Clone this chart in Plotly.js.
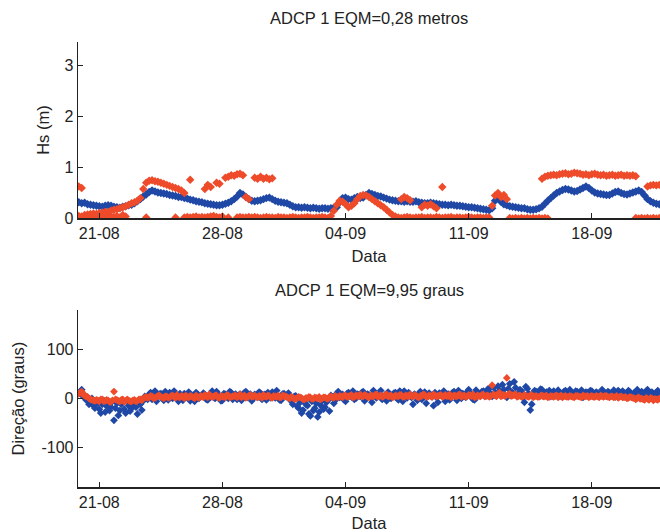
<!DOCTYPE html>
<html>
<head>
<meta charset="utf-8">
<script src="https://cdn.plot.ly/plotly-3.0.1.min.js"></script>
<style>html,body{margin:0;padding:0;background:#fff;}#chart{width:660px;height:532px;}</style>
</head>
<body>
<div id="chart"></div>
<script>
// ---- sampling: one value every 4 hours, starting 19-08 20:00 ----
const startTime = "2013-08-19T20:00:00";
const stepHours = 4;
const offsetHours = 2; // second set of direction samples, between the first ones

// ---- tick labels ----
const tickDates = ["2013-08-21", "2013-08-28", "2013-09-04", "2013-09-11", "2013-09-18"];
const tickLabels = ["21-08", "28-08", "04-09", "11-09", "18-09"];
const hsTicks = [0, 1, 2, 3];
const dirTicks = [-100, 0, 100];
const dirTickLabels = ["-100", "0", "100"];

// ---- Hs (m): ADCP (blue) ----
const hsBlue = [
0.32,0.30,0.31,0.28,0.27,0.26, 0.25,0.24,0.23,0.25,0.26,0.25, 0.23,0.22,0.21,0.23,0.24,0.26,
0.27,0.30,0.34,0.38,0.43,0.47, 0.52,0.55,0.53,0.51,0.50,0.49, 0.48,0.46,0.45,0.44,0.42,0.42,
0.40,0.39,0.37,0.36,0.34,0.33, 0.32,0.30,0.29,0.28,0.27,0.26, 0.26,0.27,0.29,0.31,0.34,0.38,
0.43,0.50,0.47,0.42,0.38,0.35, 0.34,0.35,0.36,0.38,0.40,0.41, 0.38,0.35,0.33,0.32,0.31,0.30,
0.27,0.24,0.22,0.22,0.21,0.22, 0.21,0.20,0.21,0.20,0.19,0.20, 0.20,0.19,0.20,0.21,0.22,0.32,
0.40,0.41,0.38,0.37,0.40,0.42, 0.40,0.41,0.46,0.50,0.48,0.46, 0.44,0.43,0.41,0.39,0.37,0.36,
0.35,0.34,0.34,0.33,0.34,0.33, 0.33,0.34,0.32,0.31,0.30,0.30, 0.31,0.30,0.29,0.28,0.27,0.27,
0.26,0.27,0.26,0.25,0.25,0.24, 0.23,0.22,0.22,0.21,0.20,0.19, 0.18,0.17,0.16,0.20,0.35,0.40,
0.33,0.28,0.26,0.24,0.23,0.22, 0.21,0.20,0.20,0.18,0.17,0.17, 0.18,0.20,0.23,0.29,0.35,0.40,
0.45,0.50,0.53,0.56,0.58,0.57, 0.55,0.53,0.54,0.57,0.60,0.63, 0.60,0.55,0.51,0.49,0.48,0.47,
0.46,0.46,0.49,0.52,0.53,0.50, 0.48,0.47,0.49,0.51,0.53,0.55, 0.52,0.45,0.38,0.34,0.31,0.29,
0.28];

// ---- Hs (m): model (red), main band ----
const hsRedMain = [
0.63,0.60,0.07,0.08,0.09,0.10, 0.09,0.11,0.12,0.13,0.13,0.15, 0.17,0.18,0.20,0.22,0.24,0.27,
0.30,0.32,0.35,0.40,0.58,0.70, 0.74,0.75,0.73,0.72,0.70,0.68, 0.66,0.64,0.62,0.60,0.58,0.55,
0.50,null,0.76,null,null,null, null,0.58,0.66,0.62,null,0.70, 0.68,null,0.80,0.82,0.85,0.84,
0.87,0.88,0.85,0.42,0.38,null, 0.80,0.78,0.82,0.78,0.80,0.77, 0.79,null,null,null,null,null,
null,null,null,null,null,null, null,null,null,null,null,null, null,null,0.05,0.15,0.27,0.35,
0.33,0.28,0.22,0.25,0.30,0.38, 0.44,0.46,0.45,0.42,0.38,0.34, 0.30,0.26,0.22,0.17,0.12,0.07,
0.04,null,0.38,0.42,0.40,0.36, null,null,null,0.22,0.27,0.25, 0.28,0.24,0.20,null,0.62,null,
null,null,null,null,null,null, null,null,null,null,null,null, null,null,null,0.25,0.45,0.50,
0.42,0.46,0.38,null,null,null, null,null,null,null,null,null, null,null,0.78,0.82,0.84,0.85,
0.86,0.85,0.87,0.88,0.89,0.87, 0.88,0.90,0.89,0.88,0.86,0.87, 0.85,0.87,0.88,0.86,0.85,0.86,
0.84,0.85,0.86,0.84,0.85,0.86, 0.84,0.85,0.84,0.85,0.83,null, null,null,0.63,0.65,0.66,0.65,
0.66];

// ---- Hs (m): model (red), band near zero ----
const hsRedLow = [
0.05,0.04,0.03,0.02,0.04,0.03, 0.05,0.02,0.04,0.03,0.06,0.04, 0.03,0.05,0.02,0.07,0.04,null,
null,null,null,null,null,0.02, null,null,null,null,null,null, null,null,null,0.02,null,null,
0.02,0.03,0.02,0.03,0.04,0.02, 0.03,0.02,0.03,0.04,0.05,0.03, 0.02,0.04,null,0.02,null,null,
0.02,0.03,0.02,0.02,0.03,0.02, 0.03,0.02,0.01,0.02,0.03,0.02, 0.02,0.01,0.03,0.02,0.02,0.01,
0.02,0.03,0.02,0.01,0.02,0.02, 0.03,0.02,0.01,0.02,0.02,0.03, 0.02,0.01,null,null,null,null,
null,null,null,null,null,null, null,null,null,null,null,null, null,null,null,null,null,null,
null,0.02,0.01,0.02,0.03,0.02, 0.01,0.02,0.02,0.03,0.01,0.02, 0.02,0.01,0.03,0.02,0.01,0.02,
0.02,0.03,0.01,0.02,0.02,0.01, 0.02,0.03,0.02,0.01,0.02,0.02, 0.01,0.02,0.02,null,null,null,
null,null,null,0.01,0.00,0.01, 0.00,0.01,0.00,0.01,0.00,0.01, 0.00,0.01,0.00,0.01,0.00,null,
null,null,null,null,null,null, null,null,null,null,null,null, null,null,null,null,null,null,
null,null,null,null,null,null, null,null,null,null,0.01,0.00, 0.01,0.00,0.01,0.00,0.01,0.00,
0.01];

// ---- Direção (graus): ADCP (blue), samples on the hour grid ----
const dirBlue = [
10,18,6,2,-8,-15, -5,-22,-12,-28,-8,-18, -45,-10,-25,-6,-30,-15,
-20,-8,-32,-12,-5,2, 8,-2,15,5,10,-4, 6,12,0,8,-6,4,
10,2,-5,6,12,0, 4,8,-3,10,2,14, 5,-4,8,0,12,6,
-2,9,3,14,6,-5, 8,2,11,4,-3,7, 13,1,6,-4,10,3,
0,-12,5,-20,-30,-8, -15,-36,-25,-10,-28,-5, -18,-4,6,-10,10,2,
8,-6,12,3,-2,9, 4,14,0,7,-8,10, 5,16,2,-5,9,3,
12,-3,6,15,1,8, -12,5,10,-2,13,4, 7,-15,2,11,6,-6,
9,3,14,-4,6,10, 2,18,8,-3,12,5, 15,8,20,4,12,25,
10,18,2,30,12,22, 6,15,-8,20,-24,10, 14,6,18,9,12,4,
15,8,11,3,16,7, 12,5,14,9,2,13, 8,15,4,11,7,14,
5,12,9,3,16,8, 11,4,13,7,10,2, 14,6,18,9,-3,12,
5];

// ---- Direção (graus): ADCP (blue), in-between samples ----
const dirBlueMid = [
14,4,-3,-12,0,-20, -10,-30,-4,-16,-25,-6, -20,-35,-12,-22,-4,-26,
-10,-18,-6,-24,4,-2, 12,3,-6,9,0,14, -3,8,15,2,10,-4,
6,13,1,-6,9,4, 11,-2,6,15,0,8, -5,10,3,14,-2,9,
6,-4,12,2,9,0, 4,13,-2,8,12,1, 7,16,-3,9,4,11,
-6,4,-16,-8,-24,-12, -32,-6,-20,-38,-14,-22, -8,-26,2,-4,14,6,
-3,10,5,15,0,7, 12,-5,9,3,16,1, 10,-2,7,13,0,11,
4,15,-6,8,12,2, 9,-4,14,5,-10,11, 3,12,-8,7,15,1,
-3,12,5,16,0,8, 13,6,-2,17,8,14, 4,19,10,22,6,16,
28,5,20,12,34,8, 18,2,24,10,-12,16, 8,19,4,13,16,7,
11,17,5,14,9,18, 6,15,10,17,7,12, 16,4,13,9,18,6,
14,8,17,11,5,15, 9,16,6,12,18,8, 10,15,4,13,7,16,
10];

// ---- Direção (graus): model (red), samples on the hour grid ----
const dirRed = [
10,14,6,3,-2,-4, -3,-6,-2,-5,-4,-7, 14,-3,-6,-2,-5,-4,
-6,-3,-5,-2,0,3, 2,4,1,5,3,0, 4,2,6,1,3,5,
0,3,5,2,6,1, 4,7,2,5,3,6, 1,4,2,6,3,5,
2,8,4,1,5,3, 6,2,4,7,3,5, 1,4,6,2,5,3,
0,2,-1,3,1,-2, 0,2,-1,1,3,0, 2,-1,4,1,3,5,
2,6,4,7,3,5, 8,4,6,2,5,7, 3,6,4,8,5,2,
6,4,7,3,5,8, 4,6,2,5,7,3, 5,8,4,6,3,7,
5,2,6,4,8,5, 3,7,5,2,6,4, 8,5,3,27,6,9,
4,7,42,10,6,8, 5,3,7,4,6,2, 5,3,6,4,2,5,
3,6,4,2,5,3, 4,2,5,3,6,4, 2,5,3,4,6,3,
5,2,4,3,1,4, 2,0,3,1,-2,2, 0,-3,-1,1,-4,-2,
0];

// ---- Direção (graus): model (red), in-between samples ----
const dirRedMid = [
12,8,4,0,-3,-5, -4,-2,-6,-3,-7,-4, -2,-5,-3,-7,-2,-6,
-4,-6,-2,-4,2,1, 5,0,3,6,2,4, 1,5,3,7,2,4,
6,2,4,0,3,5, 2,5,8,3,6,2, 5,3,7,2,4,6,
4,2,6,3,7,4, 3,5,1,4,6,2, 5,3,2,6,4,1,
3,-1,1,2,-2,1, 3,-1,2,0,-2,2, 0,3,2,5,2,4,
6,3,5,2,6,4, 5,7,3,6,4,8, 5,3,7,4,6,3,
5,7,3,6,4,5, 7,3,5,8,4,6, 3,6,5,7,4,5,
8,4,5,7,3,6, 4,6,8,3,5,7, 4,6,5,8,4,12,
6,5,8,5,7,3, 6,4,5,3,7,4, 3,5,4,6,3,4,
5,2,6,4,3,5, 3,5,4,2,4,5, 4,3,5,2,4,5,
3,4,2,5,3,2, 3,1,2,0,1,-1, -2,1,-3,0,-1,-3,
-1];

// ---- sample times ----
function buildTimes(n, shiftHours) {
  const t0 = new Date(startTime + "Z").getTime() + shiftHours * 3600 * 1000;
  const out = [];
  for (let i = 0; i < n; i++) {
    const d = new Date(t0 + i * stepHours * 3600 * 1000);
    out.push(d.toISOString().slice(0, 19).replace("T", " "));
  }
  return out;
}
const times = buildTimes(hsBlue.length, 0);
const timesMid = buildTimes(dirBlueMid.length, offsetHours);

const BLUE = "#1f48a6";
const RED = "#ee4b2b";
const FONT = "Liberation Sans, Arial, sans-serif";

function mk(x, y, color, xa, ya, name, size) {
  return {
    type: "scatter", mode: "markers", x: x, y: y, xaxis: xa, yaxis: ya, name: name,
    marker: { symbol: "diamond", size: size, color: color, line: { width: 0 } },
    hoverinfo: "x+y", showlegend: false
  };
}

const data = [
  mk(times, hsBlue, BLUE, "x", "y", "ADCP", 6.5),
  mk(times, hsRedLow, RED, "x", "y", "Modelo", 6.5),
  mk(times, hsRedMain, RED, "x", "y", "Modelo", 6.5),
  mk(times, dirBlue, BLUE, "x2", "y2", "ADCP", 6),
  mk(timesMid, dirBlueMid, BLUE, "x2", "y2", "ADCP", 6),
  mk(times, dirRed, RED, "x2", "y2", "Modelo", 6),
  mk(timesMid, dirRedMid, RED, "x2", "y2", "Modelo", 6)
];

const xRange = ["2013-08-19 18:56", "2013-09-21 21:02"];
function xax(anchor) {
  return {
    type: "date", range: xRange, anchor: anchor, domain: [0, 1],
    tickvals: tickDates, ticktext: tickLabels,
    ticks: "inside", ticklen: 5, tickwidth: 1, tickcolor: "#222",
    showline: true, linecolor: "#222", linewidth: 1.3,
    showgrid: false, zeroline: false,
    tickfont: { family: FONT, size: 16, color: "#222" },
    title: { text: "Data", font: { family: FONT, size: 16.5, color: "#222" }, standoff: 9 },
    automargin: false
  };
}
function yax(anchor, range, domain, vals, texts, title, standoff) {
  return {
    anchor: anchor, range: range, domain: domain,
    tickvals: vals, ticktext: texts, ticks: "inside", ticklen: 5, tickwidth: 1, tickcolor: "#222",
    showline: true, linecolor: "#222", linewidth: 1.3,
    showgrid: false, zeroline: false,
    tickfont: { family: FONT, size: 16, color: "#222" },
    title: { text: title, font: { family: FONT, size: 16.5, color: "#222" }, standoff: standoff },
    automargin: false
  };
}

const layout = {
  width: 660, height: 532,
  margin: { l: 78, r: 0, t: 0, b: 0 },
  paper_bgcolor: "#fff", plot_bgcolor: "#fff",
  font: { family: FONT, color: "#222" },
  xaxis: xax("y"),
  yaxis: yax("x", [0, 3.47], [0.5893, 0.9216], hsTicks, hsTicks.map(String), "Hs (m)", 10),
  xaxis2: xax("y2"),
  yaxis2: yax("x2", [-182.5, 181.5], [0.0840, 0.4173], dirTicks, dirTickLabels, "Direção (graus)", 12),
  annotations: [
    { text: "ADCP 1 EQM=0,28 metros", xref: "paper", yref: "paper", x: 0.5, y: (532 - 18) / 532,
      xanchor: "center", yanchor: "middle", showarrow: false,
      font: { family: FONT, size: 16.5, color: "#222" } },
    { text: "ADCP 1 EQM=9,95 graus", xref: "paper", yref: "paper", x: 0.5, y: (532 - 290) / 532,
      xanchor: "center", yanchor: "middle", showarrow: false,
      font: { family: FONT, size: 16.5, color: "#222" } }
  ]
};

Plotly.newPlot("chart", data, layout, { staticPlot: true, displayModeBar: false });
</script>
</body>
</html>
